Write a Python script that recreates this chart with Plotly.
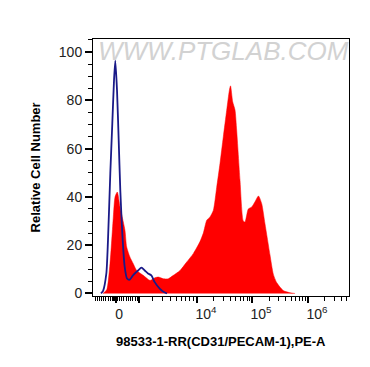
import plotly.graph_objects as go

# Display-scale x positions (biexponential axis, decades: 4 -> 10^4 etc.)
red_x = [2.306, 2.373, 2.432, 2.492, 2.523, 2.564, 2.613, 2.672, 2.703, 2.733, 2.793, 2.852,
         2.914, 3.032, 3.153, 3.243, 3.303, 3.393, 3.483, 3.573, 3.694, 3.814, 3.933, 4.054,
         4.114, 4.175, 4.234, 4.294, 4.355, 4.414, 4.474, 4.535, 4.582, 4.604, 4.643, 4.685,
         4.715, 4.775, 4.834, 4.865, 4.924, 4.986, 5.045, 5.108, 5.166, 5.225, 5.315, 5.375,
         5.436, 5.555, 5.676, 5.766]
red_y = [0, 1.5, 12.3, 31.7, 40, 42, 35.8, 29.6, 26, 19.2, 15, 12.3,
         9.5, 7.5, 5.4, 6.5, 6.8, 6.1, 6.1, 7.5, 9.5, 13, 16.5, 21.5,
         25, 30.3, 31.7, 34.4, 44, 53.8, 64.9, 75.9, 84, 86, 79.4, 76,
         67.6, 46.9, 30, 29.6, 35, 35.8, 38, 40.4, 37.2, 28.9, 16, 8,
         4.5, 1.2, 0.3, 0]

blue_x = [2.270, 2.306, 2.366, 2.396, 2.438, 2.474, 2.505, 2.528, 2.559, 2.589, 2.618, 2.654,
          2.697, 2.739, 2.787, 2.847, 2.937, 3.000, 3.058, 3.117, 3.177, 3.238, 3.328, 3.387, 3.459]
blue_y = [0, 1, 8.2, 22, 49.8, 70.5, 88.4, 96.4, 84, 63.5, 42.7, 24.9,
          11, 6.2, 5.7, 7.5, 9.5, 10.7, 9.5, 8.3, 7.5, 4.7, 2, 0.8, 0]

# Axis ticks
x_major_ticks = [2.532, 2.960, 4, 5, 6]
x_minor_ticks = [2.162, 2.204, 2.240, 2.283, 2.324, 2.360, 2.402, 2.445, 2.477, 2.495, 2.514,
                 2.550, 2.568, 2.600, 2.643, 2.672, 2.721, 2.762, 2.805, 2.841, 2.883, 2.919,
                 3.207, 3.387, 3.514, 3.622, 3.712, 3.793, 3.865, 3.928,
                 4.301, 4.477, 4.602, 4.699, 4.778, 4.845, 4.903, 4.954,
                 5.301, 5.477, 5.602, 5.699, 5.778, 5.845, 5.903, 5.954,
                 6.301, 6.477, 6.602, 6.699]
x_label_pos = [2.595, 4.162, 5.153, 6.162]
x_label_text = ["0", "10<sup>4</sup>", "10<sup>5</sup>", "10<sup>6</sup>"]
y_ticks = [0, 20, 40, 60, 80, 100]

x_range = [2.126, 6.739]
y_range = [-1.05, 105.4]

x_title = "98533-1-RR(CD31/PECAM-1),PE-A"
y_title = "Relative Cell Number"
watermark = "WWW.PTGLAB.COM"

fig = go.Figure()
fig.add_trace(go.Scatter(x=red_x, y=red_y, mode="lines", fill="tozeroy",
                         line=dict(color="#ff0000", width=0.5, shape="spline", smoothing=0.6),
                         fillcolor="#ff0000", showlegend=False, hoverinfo="skip"))
fig.add_trace(go.Scatter(x=blue_x, y=blue_y, mode="lines",
                         line=dict(color="#1a1a88", width=1.8, shape="spline", smoothing=0.6),
                         showlegend=False, hoverinfo="skip"))
# invisible trace to host the label axis
fig.add_trace(go.Scatter(x=[x_range[0]], y=[0], xaxis="x2", mode="markers",
                         marker=dict(opacity=0), showlegend=False, hoverinfo="skip"))

font_lbl = dict(family="Liberation Sans, Arial, sans-serif", size=14, color="#222")
font_title = dict(family="Liberation Sans, Arial, sans-serif", size=13, color="black")

fig.update_layout(
    width=362, height=359,
    margin=dict(l=85, r=21, t=31, b=71),
    paper_bgcolor="white", plot_bgcolor="white",
    xaxis=dict(range=x_range, showgrid=False, zeroline=False, automargin=False,
               showline=True, linecolor="black", linewidth=1, mirror=True,
               tickmode="array", tickvals=x_major_ticks, showticklabels=False,
               ticks="outside", ticklen=6, tickwidth=1.5, tickcolor="black",
               minor=dict(tickmode="array", tickvals=x_minor_ticks, ticks="outside",
                          ticklen=4, tickwidth=1, tickcolor="black")),
    xaxis2=dict(range=x_range, overlaying="x", anchor="y", side="bottom", automargin=False,
                showgrid=False, zeroline=False, showline=False,
                tickmode="array", tickvals=x_label_pos, ticktext=x_label_text,
                ticks="", tickfont=font_lbl, ticklabelstandoff=8),
    yaxis=dict(range=y_range, showgrid=False, zeroline=False, automargin=False,
               showline=True, linecolor="black", linewidth=1, mirror=True,
               tickmode="array", tickvals=y_ticks,
               ticks="outside", ticklen=7, tickwidth=1.5, tickcolor="black",
               tickfont=font_lbl,
               minor=dict(dtick=5, tick0=0, ticks="outside", ticklen=4, tickwidth=1, tickcolor="black")),
    annotations=[
        dict(text=watermark, xref="paper", yref="paper", x=0.51, y=0.952,
             xanchor="center", yanchor="middle", showarrow=False,
             font=dict(family="Liberation Sans, Arial, sans-serif", size=26, color="#d2d2d2",
                       style="italic")),
        dict(text="<b>" + x_title + "</b>", xref="paper", yref="paper", x=0.5, y=-0.176,
             xanchor="center", yanchor="middle", showarrow=False, font=font_title),
        dict(text="<b>" + y_title + "</b>", xref="paper", yref="paper", x=-0.223, y=0.5,
             xanchor="center", yanchor="middle", textangle=-90, showarrow=False, font=font_title),
    ],
)

fig.write_html("out.html")
